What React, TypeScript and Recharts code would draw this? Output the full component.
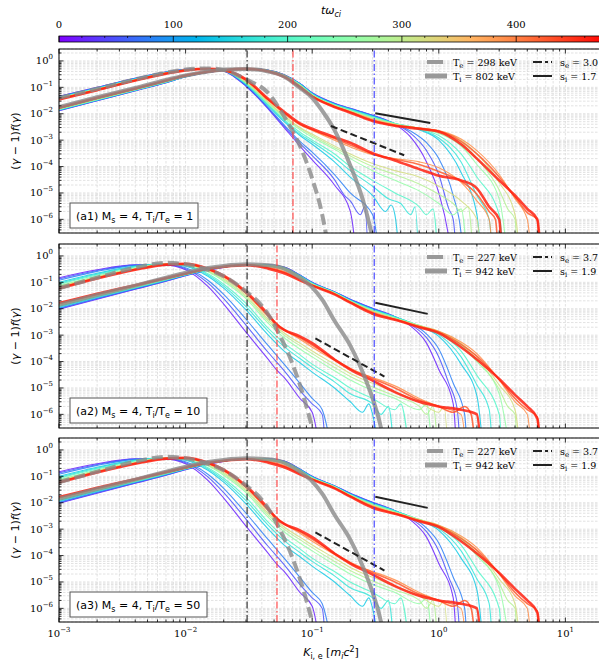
import React from 'react';
import { LineChart, Line, XAxis, YAxis, CartesianGrid, ReferenceLine } from 'recharts';

type Pt = [number, number];

// ---------- time snapshots (colour = t ω_ci) ----------
const TIMES: number[] = [20, 50, 80, 140, 170, 200, 260, 290, 320, 390, 425, 460];
const T_MAX = 480;
const CBAR_LABELS: number[] = [0, 100, 200, 300, 400];
const X_DECADES: number[] = [-3, -2, -1, 0, 1];
const Y_DECADES: number[] = [-7, -6, -5, -4, -3, -2, -1, 0];

// ---------- panel (a1) : T_i/T_e = 1 ----------
const P1_ELECTRONS: Pt[][] = [
  [[0.001,0.046],[0.002,0.1],[0.004,0.22],[0.007,0.38],[0.01,0.48],[0.015,0.52],[0.02,0.42],[0.03,0.11],[0.045,0.015],[0.06,3e-3],[0.08,6e-4],[0.1,1.8e-4],[0.15,2e-5],[0.2,2e-6],[0.23,1e-8]],
  [[0.001,0.045],[0.002,0.098],[0.004,0.218],[0.007,0.378],[0.01,0.478],[0.015,0.518],[0.02,0.425],[0.03,0.115],[0.045,0.016],[0.06,3.4e-3],[0.08,7.5e-4],[0.1,2.6e-4],[0.15,3.2e-5],[0.18,8e-6],[0.2,5e-6],[0.24,1.5e-6],[0.26,3e-6],[0.28,1e-8]],
  [[0.001,0.044],[0.002,0.097],[0.004,0.215],[0.007,0.375],[0.01,0.475],[0.015,0.515],[0.02,0.43],[0.03,0.12],[0.045,0.017],[0.06,3.8e-3],[0.08,9e-4],[0.1,3.5e-4],[0.15,5e-5],[0.2,1e-5],[0.3,1.5e-6],[0.35,1e-8]],
  [[0.001,0.042],[0.002,0.093],[0.004,0.21],[0.007,0.37],[0.01,0.47],[0.015,0.512],[0.02,0.435],[0.03,0.13],[0.045,0.02],[0.06,5e-3],[0.08,1.5e-3],[0.1,7e-4],[0.15,1.5e-4],[0.2,4e-5],[0.3,8e-6],[0.38,2e-6],[0.42,3.5e-6],[0.45,1.5e-6],[0.5,1e-8]],
  [[0.001,0.041],[0.002,0.092],[0.004,0.205],[0.007,0.365],[0.01,0.465],[0.015,0.511],[0.02,0.437],[0.03,0.135],[0.045,0.021],[0.06,5.5e-3],[0.08,1.7e-3],[0.1,8.5e-4],[0.15,2.2e-4],[0.2,7e-5],[0.3,1.8e-5],[0.4,6e-6],[0.5,4e-6],[0.6,1.5e-6],[0.65,3e-6],[0.7,1e-8]],
  [[0.001,0.04],[0.002,0.09],[0.004,0.2],[0.007,0.36],[0.01,0.46],[0.015,0.51],[0.02,0.44],[0.03,0.14],[0.045,0.022],[0.06,6e-3],[0.08,2e-3],[0.1,1e-3],[0.15,3e-4],[0.2,1e-4],[0.3,3e-5],[0.45,1e-5],[0.7,3e-6],[0.8,1.5e-6],[0.9,2.5e-6],[1,1e-8]],
  [[0.001,0.039],[0.002,0.087],[0.004,0.195],[0.007,0.35],[0.01,0.455],[0.015,0.505],[0.02,0.445],[0.03,0.15],[0.045,0.025],[0.06,7e-3],[0.08,2.5e-3],[0.1,1.3e-3],[0.15,4.5e-4],[0.2,2e-4],[0.3,7e-5],[0.45,3e-5],[0.7,1.2e-5],[1,4e-6],[1.3,1.5e-6],[1.5,2.5e-6],[1.7,1e-8]],
  [[0.001,0.0385],[0.002,0.085],[0.004,0.192],[0.007,0.348],[0.01,0.452],[0.015,0.502],[0.02,0.446],[0.03,0.155],[0.045,0.027],[0.06,7.8e-3],[0.08,2.8e-3],[0.1,1.5e-3],[0.15,5.2e-4],[0.2,2.5e-4],[0.3,1e-4],[0.45,5e-5],[0.7,2.2e-5],[1,9e-6],[1.3,4e-6],[1.5,2e-6],[1.7,3e-6],[1.9,1e-8]],
  [[0.001,0.038],[0.002,0.084],[0.004,0.19],[0.007,0.345],[0.01,0.45],[0.015,0.5],[0.02,0.447],[0.03,0.16],[0.045,0.028],[0.06,8.5e-3],[0.08,3e-3],[0.1,1.7e-3],[0.15,6e-4],[0.2,3e-4],[0.3,1.3e-4],[0.45,7e-5],[0.7,4e-5],[1,1.8e-5],[1.5,5e-6],[2,1e-6],[2.2,1e-8]],
  [[0.001,0.036],[0.002,0.081],[0.004,0.185],[0.007,0.34],[0.01,0.445],[0.015,0.5],[0.02,0.45],[0.03,0.18],[0.045,0.032],[0.06,0.01],[0.08,3.8e-3],[0.1,2.3e-3],[0.15,1e-3],[0.2,5.5e-4],[0.3,2.8e-4],[0.45,2e-4],[0.7,1.5e-4],[1,9e-5],[1.5,2.5e-5],[2,5e-6],[2.5,1e-6],[2.7,1e-8]],
  [[0.001,0.0355],[0.002,0.08],[0.004,0.182],[0.007,0.335],[0.01,0.442],[0.015,0.5],[0.02,0.45],[0.03,0.19],[0.045,0.034],[0.06,0.011],[0.08,4e-3],[0.1,2.5e-3],[0.15,1.15e-3],[0.2,6.5e-4],[0.3,3e-4],[0.45,1.9e-4],[0.7,1.2e-4],[1,6.5e-5],[1.5,2.8e-5],[2,9e-6],[2.5,2e-6],[2.8,1e-6],[3,1e-8]],
  [[0.001,0.035],[0.002,0.078],[0.004,0.18],[0.007,0.33],[0.01,0.44],[0.015,0.5],[0.02,0.45],[0.03,0.2],[0.045,0.036],[0.06,0.012],[0.08,4.3e-3],[0.1,2.7e-3],[0.15,1.3e-3],[0.2,8e-4],[0.3,3.2e-4],[0.45,1.7e-4],[0.7,8e-5],[1,4.5e-5],[1.5,3e-5],[2,1.5e-5],[2.5,3e-6],[3,1e-6],[3.2,1e-8]],
];

const P1_IONS: Pt[][] = [
  [[0.001,0.013],[0.002,0.031],[0.004,0.074],[0.007,0.15],[0.01,0.25],[0.015,0.37],[0.02,0.45],[0.03,0.51],[0.045,0.44],[0.06,0.3],[0.08,0.14],[0.1,0.062],[0.15,0.025],[0.2,0.016],[0.3,8.8e-3],[0.45,4e-3],[0.6,1.3e-3],[0.8,1.5e-4],[1,1e-5],[1.2,2e-7],[1.3,1e-8]],
  [[0.001,0.0132],[0.002,0.0315],[0.004,0.075],[0.007,0.151],[0.01,0.251],[0.015,0.371],[0.02,0.45],[0.03,0.51],[0.045,0.44],[0.06,0.298],[0.08,0.138],[0.1,0.061],[0.15,0.0245],[0.2,0.0158],[0.3,8.6e-3],[0.45,4.1e-3],[0.6,1.8e-3],[0.8,4e-4],[1,5e-5],[1.2,2.5e-6],[1.3,1e-6],[1.4,1e-8]],
  [[0.001,0.0135],[0.002,0.032],[0.004,0.076],[0.007,0.152],[0.01,0.252],[0.015,0.372],[0.02,0.45],[0.03,0.51],[0.045,0.44],[0.06,0.295],[0.08,0.137],[0.1,0.06],[0.15,0.024],[0.2,0.0155],[0.3,8.5e-3],[0.45,4.2e-3],[0.6,2.2e-3],[0.8,8e-4],[1,2e-4],[1.3,8e-6],[1.5,3e-7],[1.6,1e-8]],
  [[0.001,0.014],[0.002,0.033],[0.004,0.078],[0.007,0.155],[0.01,0.255],[0.015,0.375],[0.02,0.45],[0.03,0.51],[0.045,0.435],[0.06,0.29],[0.08,0.133],[0.1,0.058],[0.15,0.023],[0.2,0.015],[0.3,8e-3],[0.45,4.3e-3],[0.7,2.5e-3],[1,1e-3],[1.5,6e-5],[2,1.5e-6],[2.2,1e-8]],
  [[0.001,0.0142],[0.002,0.0335],[0.004,0.079],[0.007,0.157],[0.01,0.257],[0.015,0.376],[0.02,0.451],[0.03,0.51],[0.045,0.432],[0.06,0.287],[0.08,0.13],[0.1,0.056],[0.15,0.0225],[0.2,0.0145],[0.3,7.8e-3],[0.45,4.3e-3],[0.7,2.6e-3],[1,1.2e-3],[1.5,1.5e-4],[2,8e-6],[2.5,1e-6],[2.7,1e-8]],
  [[0.001,0.0145],[0.002,0.034],[0.004,0.08],[0.007,0.16],[0.01,0.26],[0.015,0.378],[0.02,0.452],[0.03,0.51],[0.045,0.43],[0.06,0.285],[0.08,0.128],[0.1,0.055],[0.15,0.022],[0.2,0.014],[0.3,7.5e-3],[0.45,4.3e-3],[0.7,2.7e-3],[1,1.5e-3],[1.5,3e-4],[2,4e-5],[3,1.5e-6],[3.3,1e-8]],
  [[0.001,0.015],[0.002,0.035],[0.004,0.082],[0.007,0.165],[0.01,0.265],[0.015,0.38],[0.02,0.455],[0.03,0.51],[0.045,0.425],[0.06,0.28],[0.08,0.123],[0.1,0.052],[0.15,0.021],[0.2,0.013],[0.3,7e-3],[0.45,4.2e-3],[0.7,2.8e-3],[1,1.8e-3],[1.5,6e-4],[2,1.2e-4],[3,6e-6],[3.6,1e-8]],
  [[0.001,0.0152],[0.002,0.0355],[0.004,0.083],[0.007,0.167],[0.01,0.267],[0.015,0.381],[0.02,0.455],[0.03,0.508],[0.045,0.422],[0.06,0.275],[0.08,0.12],[0.1,0.051],[0.15,0.0205],[0.2,0.0128],[0.3,6.8e-3],[0.45,4.1e-3],[0.7,2.85e-3],[1,2e-3],[1.5,8e-4],[2,2e-4],[3,1.3e-5],[3.5,2.5e-6],[4,1e-6],[4.2,1e-8]],
  [[0.001,0.0155],[0.002,0.036],[0.004,0.085],[0.007,0.17],[0.01,0.27],[0.015,0.383],[0.02,0.455],[0.03,0.505],[0.045,0.42],[0.06,0.27],[0.08,0.117],[0.1,0.05],[0.15,0.02],[0.2,0.0125],[0.3,6.5e-3],[0.45,4e-3],[0.7,2.9e-3],[1,2.2e-3],[1.5,1e-3],[2,3e-4],[3,2.5e-5],[4,1.5e-6],[4.5,1e-8]],
  [[0.001,0.016],[0.002,0.038],[0.004,0.087],[0.007,0.175],[0.01,0.275],[0.015,0.386],[0.02,0.455],[0.03,0.5],[0.045,0.41],[0.06,0.26],[0.08,0.11],[0.1,0.047],[0.15,0.019],[0.2,0.012],[0.3,6e-3],[0.45,3.8e-3],[0.7,2.9e-3],[1,2.3e-3],[1.5,1.1e-3],[2,4e-4],[3,5e-5],[4,6e-6],[5,1e-6],[5.5,1e-8]],
  [[0.001,0.0165],[0.002,0.039],[0.004,0.088],[0.007,0.178],[0.01,0.278],[0.015,0.388],[0.02,0.455],[0.03,0.5],[0.045,0.405],[0.06,0.255],[0.08,0.105],[0.1,0.046],[0.15,0.0185],[0.2,0.0115],[0.3,5.6e-3],[0.45,3.6e-3],[0.7,2.8e-3],[1,2.2e-3],[1.5,9e-4],[2,3e-4],[3,4e-5],[4,7e-6],[5,1.8e-6],[6,1e-6],[6.3,1e-8]],
  [[0.001,0.017],[0.002,0.04],[0.004,0.09],[0.007,0.18],[0.01,0.28],[0.015,0.39],[0.02,0.455],[0.03,0.5],[0.045,0.4],[0.06,0.25],[0.08,0.1],[0.1,0.045],[0.15,0.018],[0.2,0.011],[0.3,5.3e-3],[0.45,3.5e-3],[0.7,2.7e-3],[1,2.1e-3],[1.5,7e-4],[2,2e-4],[3,3e-5],[4,8e-6],[5,2.5e-6],[6,1e-6],[6.5,1e-8]],
];

const P1_TE_FIT: Pt[] = [[0.001,0.04],[0.002,0.088],[0.004,0.2],[0.007,0.36],[0.01,0.47],[0.015,0.52],[0.02,0.45],[0.03,0.2],[0.045,0.06],[0.06,8e-3],[0.08,6e-4],[0.1,3.5e-5],[0.12,1.5e-6],[0.13,2e-7],[0.14,2e-8]];
const P1_TI_FIT: Pt[] = [[0.001,0.018],[0.002,0.042],[0.004,0.095],[0.007,0.19],[0.01,0.28],[0.015,0.4],[0.02,0.47],[0.03,0.5],[0.045,0.4],[0.06,0.26],[0.08,0.095],[0.1,0.04],[0.12,0.013],[0.15,2.4e-3],[0.2,1.1e-4],[0.25,6e-6],[0.3,2e-7],[0.33,2e-8]];
const P1_SE_LINE: Pt[] = [[0.1406,3.45e-3],[0.533,2.68e-4]];
const P1_SI_LINE: Pt[] = [[0.315,0.0105],[0.857,4.47e-3]];
const P1_VLINES: number[] = [0.0306, 0.0705, 0.309];
const P1_LEGEND: string[] = ['298', '802', '3.0', '1.7'];

// ---------- panels (a2) and (a3) : T_i/T_e = 10, 50 ----------
const P23_ELECTRONS: Pt[][] = [
  [[0.001,0.15],[0.002,0.3],[0.004,0.46],[0.007,0.45],[0.01,0.3],[0.015,0.07],[0.02,0.015],[0.03,1.3e-3],[0.045,1.2e-4],[0.053,4.5e-5],[0.06,2.5e-5],[0.08,4e-6],[0.1,1.2e-6],[0.12,1e-8]],
  [[0.001,0.135],[0.002,0.28],[0.004,0.45],[0.007,0.465],[0.01,0.33],[0.015,0.095],[0.02,0.024],[0.03,2.4e-3],[0.045,2.2e-4],[0.06,4.5e-5],[0.08,8e-6],[0.1,2.5e-6],[0.12,1e-6],[0.13,1e-8]],
  [[0.001,0.12],[0.002,0.26],[0.004,0.44],[0.007,0.48],[0.01,0.36],[0.015,0.12],[0.02,0.035],[0.03,4e-3],[0.045,4e-4],[0.06,8e-5],[0.08,1.5e-5],[0.1,4e-6],[0.12,1.5e-6],[0.15,1e-8]],
  [[0.001,0.1],[0.002,0.22],[0.004,0.41],[0.007,0.5],[0.01,0.41],[0.015,0.17],[0.02,0.06],[0.03,9e-3],[0.045,1e-3],[0.06,2.5e-4],[0.08,9e-5],[0.1,4e-5],[0.15,1e-5],[0.2,3e-6],[0.25,1.2e-6],[0.28,2.5e-6],[0.3,1e-6],[0.35,1e-8]],
  [[0.001,0.092],[0.002,0.205],[0.004,0.395],[0.007,0.5],[0.01,0.425],[0.015,0.19],[0.02,0.072],[0.03,0.012],[0.045,1.4e-3],[0.06,3.7e-4],[0.08,1.3e-4],[0.1,6e-5],[0.15,1.7e-5],[0.2,6e-6],[0.3,2.5e-6],[0.35,1e-6],[0.4,2e-6],[0.45,1e-8]],
  [[0.001,0.085],[0.002,0.19],[0.004,0.38],[0.007,0.5],[0.01,0.44],[0.015,0.21],[0.02,0.085],[0.03,0.016],[0.045,1.8e-3],[0.06,5e-4],[0.08,1.8e-4],[0.1,8e-5],[0.15,2.5e-5],[0.2,1e-5],[0.3,4e-6],[0.45,1.5e-6],[0.5,2.5e-6],[0.6,1e-8]],
  [[0.001,0.075],[0.002,0.17],[0.004,0.35],[0.007,0.5],[0.01,0.47],[0.015,0.25],[0.02,0.11],[0.03,0.024],[0.045,2.8e-3],[0.06,8e-4],[0.08,3e-4],[0.1,1.5e-4],[0.15,4.5e-5],[0.2,2e-5],[0.3,8e-6],[0.45,4e-6],[0.7,1.5e-6],[0.8,2.5e-6],[0.9,1e-8]],
  [[0.001,0.071],[0.002,0.165],[0.004,0.34],[0.007,0.495],[0.01,0.475],[0.015,0.265],[0.02,0.125],[0.03,0.028],[0.045,3.4e-3],[0.06,1e-3],[0.08,4e-4],[0.1,2e-4],[0.15,6e-5],[0.2,2.7e-5],[0.3,1.1e-5],[0.45,5e-6],[0.7,2e-6],[0.8,1e-6],[0.9,2e-6],[1,1e-8]],
  [[0.001,0.068],[0.002,0.16],[0.004,0.33],[0.007,0.49],[0.01,0.48],[0.015,0.28],[0.02,0.14],[0.03,0.032],[0.045,4e-3],[0.06,1.2e-3],[0.08,5e-4],[0.1,2.5e-4],[0.15,8e-5],[0.2,3.5e-5],[0.3,1.5e-5],[0.45,7e-6],[0.7,3e-6],[1,1.2e-6],[1.1,2e-6],[1.2,1e-8]],
  [[0.001,0.063],[0.002,0.15],[0.004,0.31],[0.007,0.48],[0.01,0.49],[0.015,0.31],[0.02,0.16],[0.03,0.038],[0.045,5e-3],[0.06,1.6e-3],[0.08,7e-4],[0.1,3.5e-4],[0.15,1.1e-4],[0.2,5e-5],[0.3,2.5e-5],[0.45,1.2e-5],[0.7,4e-6],[1,2e-6],[1.5,1e-6],[1.7,1e-8]],
  [[0.001,0.06],[0.002,0.145],[0.004,0.305],[0.007,0.475],[0.01,0.495],[0.015,0.32],[0.02,0.17],[0.03,0.04],[0.045,5.5e-3],[0.06,1.6e-3],[0.08,8e-4],[0.1,4.2e-4],[0.15,1.2e-4],[0.2,5.5e-5],[0.3,2.3e-5],[0.45,1e-5],[0.7,3.5e-6],[1,2e-6],[1.3,1.2e-6],[1.6,2e-6],[1.8,1e-6],[2,1e-8]],
  [[0.001,0.058],[0.002,0.14],[0.004,0.3],[0.007,0.47],[0.01,0.5],[0.015,0.33],[0.02,0.18],[0.03,0.043],[0.045,6e-3],[0.053,2.3e-3],[0.06,1.6e-3],[0.08,9e-4],[0.1,5e-4],[0.15,1.2e-4],[0.2,5e-5],[0.3,1.9e-5],[0.45,7e-6],[0.7,3e-6],[1,2e-6],[1.5,1.5e-6],[2,1e-6],[2.2,1e-8]],
];

const P23_IONS: Pt[][] = [
  [[0.001,0.0095],[0.002,0.023],[0.004,0.055],[0.007,0.11],[0.01,0.18],[0.015,0.29],[0.02,0.37],[0.03,0.47],[0.045,0.46],[0.06,0.38],[0.08,0.19],[0.1,0.1],[0.15,0.044],[0.2,0.023],[0.3,0.0105],[0.45,5e-3],[0.6,2.2e-3],[0.8,5e-4],[1,5e-5],[1.3,2.5e-6],[1.4,1e-8]],
  [[0.001,0.01],[0.002,0.024],[0.004,0.0565],[0.007,0.1125],[0.01,0.1825],[0.015,0.2925],[0.02,0.3725],[0.03,0.47],[0.045,0.457],[0.06,0.375],[0.08,0.187],[0.1,0.098],[0.15,0.0435],[0.2,0.0225],[0.3,0.0102],[0.45,5e-3],[0.6,2.5e-3],[0.8,8e-4],[1,1.5e-4],[1.2,1.5e-5],[1.4,1.5e-6],[1.5,1e-8]],
  [[0.001,0.0105],[0.002,0.025],[0.004,0.058],[0.007,0.115],[0.01,0.185],[0.015,0.295],[0.02,0.375],[0.03,0.47],[0.045,0.455],[0.06,0.37],[0.08,0.185],[0.1,0.097],[0.15,0.043],[0.2,0.022],[0.3,0.01],[0.45,5e-3],[0.6,2.8e-3],[0.8,1.1e-3],[1,3e-4],[1.3,1.5e-5],[1.6,1e-6],[1.7,1e-8]],
  [[0.001,0.0115],[0.002,0.027],[0.004,0.061],[0.007,0.12],[0.01,0.19],[0.015,0.3],[0.02,0.38],[0.03,0.47],[0.045,0.45],[0.06,0.36],[0.08,0.18],[0.1,0.094],[0.15,0.042],[0.2,0.021],[0.3,9.5e-3],[0.45,5e-3],[0.7,2.2e-3],[1,9e-4],[1.5,8e-5],[2,5e-6],[2.3,1e-8]],
  [[0.001,0.012],[0.002,0.028],[0.004,0.0625],[0.007,0.1225],[0.01,0.1925],[0.015,0.3025],[0.02,0.38],[0.03,0.47],[0.045,0.445],[0.06,0.355],[0.08,0.175],[0.1,0.092],[0.15,0.0415],[0.2,0.0205],[0.3,9.2e-3],[0.45,4.9e-3],[0.7,2.25e-3],[1,1.05e-3],[1.5,1.5e-4],[2,1.3e-5],[2.5,1.5e-6],[2.7,1e-8]],
  [[0.001,0.0125],[0.002,0.029],[0.004,0.064],[0.007,0.125],[0.01,0.195],[0.015,0.305],[0.02,0.38],[0.03,0.47],[0.045,0.44],[0.06,0.35],[0.08,0.17],[0.1,0.09],[0.15,0.041],[0.2,0.02],[0.3,9e-3],[0.45,4.8e-3],[0.7,2.3e-3],[1,1.2e-3],[1.5,2.5e-4],[2,3e-5],[3,1e-6],[3.2,1e-8]],
  [[0.001,0.0135],[0.002,0.031],[0.004,0.067],[0.007,0.13],[0.01,0.2],[0.015,0.31],[0.02,0.385],[0.03,0.47],[0.045,0.43],[0.06,0.33],[0.08,0.16],[0.1,0.087],[0.15,0.04],[0.2,0.0195],[0.3,8.5e-3],[0.45,4.5e-3],[0.7,2.3e-3],[1,1.3e-3],[1.5,4e-4],[2,1e-4],[3,6e-6],[3.8,1e-8]],
  [[0.001,0.014],[0.002,0.032],[0.004,0.0685],[0.007,0.1325],[0.01,0.2025],[0.015,0.3125],[0.02,0.3875],[0.03,0.468],[0.045,0.42],[0.06,0.315],[0.08,0.155],[0.1,0.0855],[0.15,0.0395],[0.2,0.0192],[0.3,8.2e-3],[0.45,4.4e-3],[0.7,2.3e-3],[1,1.35e-3],[1.5,4.5e-4],[2,1.2e-4],[3,9e-6],[3.5,2e-6],[4,1e-6],[4.2,1e-8]],
  [[0.001,0.0145],[0.002,0.033],[0.004,0.07],[0.007,0.135],[0.01,0.205],[0.015,0.315],[0.02,0.39],[0.03,0.465],[0.045,0.41],[0.06,0.3],[0.08,0.15],[0.1,0.084],[0.15,0.039],[0.2,0.019],[0.3,8e-3],[0.45,4.3e-3],[0.7,2.3e-3],[1,1.4e-3],[1.5,5e-4],[2,1.5e-4],[3,1.3e-5],[4,1.5e-6],[4.5,1e-8]],
  [[0.001,0.0155],[0.002,0.035],[0.004,0.074],[0.007,0.14],[0.01,0.21],[0.015,0.32],[0.02,0.39],[0.03,0.46],[0.045,0.38],[0.06,0.26],[0.08,0.135],[0.1,0.08],[0.15,0.037],[0.2,0.018],[0.3,7.5e-3],[0.45,4e-3],[0.7,2.2e-3],[1,1.4e-3],[1.5,5.5e-4],[2,2e-4],[3,2e-5],[4,3e-6],[5,1e-6],[5.5,1e-8]],
  [[0.001,0.016],[0.002,0.036],[0.004,0.076],[0.007,0.1425],[0.01,0.2125],[0.015,0.3225],[0.02,0.39],[0.03,0.455],[0.045,0.355],[0.06,0.24],[0.08,0.128],[0.1,0.0775],[0.15,0.036],[0.2,0.0175],[0.3,7e-3],[0.45,3.9e-3],[0.7,2.1e-3],[1,1.3e-3],[1.5,4.5e-4],[2,1.6e-4],[3,2.1e-5],[4,4e-6],[5,1.5e-6],[6,8e-7],[6.3,1e-8]],
  [[0.001,0.0165],[0.002,0.037],[0.004,0.078],[0.007,0.145],[0.01,0.215],[0.015,0.325],[0.02,0.39],[0.03,0.45],[0.045,0.33],[0.06,0.22],[0.08,0.12],[0.1,0.075],[0.15,0.035],[0.2,0.017],[0.3,6.5e-3],[0.45,3.8e-3],[0.7,2e-3],[1,1.2e-3],[1.5,3.5e-4],[2,1.2e-4],[3,2.2e-5],[4,5.5e-6],[5,2e-6],[6,7e-7],[6.5,1e-8]],
];

const P23_TE_FIT: Pt[] = [[0.001,0.06],[0.002,0.15],[0.004,0.36],[0.007,0.55],[0.01,0.48],[0.015,0.3],[0.02,0.17],[0.03,0.045],[0.04,0.013],[0.045,6e-3],[0.053,1.5e-3],[0.06,4.5e-4],[0.07,8e-5],[0.08,1.3e-5],[0.09,2e-6],[0.1,3e-7],[0.11,3e-8]];
const P23_TI_FIT: Pt[] = [[0.001,0.014],[0.002,0.033],[0.004,0.075],[0.007,0.15],[0.01,0.23],[0.015,0.35],[0.02,0.42],[0.03,0.48],[0.045,0.44],[0.06,0.33],[0.08,0.15],[0.1,0.065],[0.12,0.022],[0.15,3.5e-3],[0.2,4e-4],[0.27,1.6e-5],[0.3,4e-6],[0.35,3e-7],[0.38,3e-8]];
const P23_SE_LINE: Pt[] = [[0.106,7.56e-4],[0.372,2.7e-5]];
const P23_SI_LINE: Pt[] = [[0.315,0.0168],[0.817,6.4e-3]];
const P23_VLINES: number[] = [0.0306, 0.0527, 0.309];
const P23_LEGEND: string[] = ['227', '942', '3.7', '1.9'];

const PANEL_RATIOS: string[] = ['1', '10', '50'];
const PANEL_TAGS: string[] = ['a1', 'a2', 'a3'];

// ---------- layout ----------
const PANEL_TOPS = [49, 244, 438];
const PH = 184;
const PL = 59;
const PW = 544.5;
const MT = 5;
const CHART_W = 640;
const CHART_H = MT + PH + 30;
const X_DOMAIN: [number, number] = [1e-3, 20];
const Y_DOMAIN: [number, number] = [Math.pow(10, -6.516), Math.pow(10, 0.452)];
const CB_X0 = 59;
const CB_PX = 1.143;
const CB_Y = 36;
const CB_H = 6;

const SERIF = 'DejaVu Serif';
const SANS = 'DejaVu Sans';

function makeTicks(decades: number[], lo: number, hi: number): number[] {
  const out: number[] = [];
  decades.forEach((d) => {
    for (let m = 1; m <= 9; m++) {
      const v = Number((m * Math.pow(10, d)).toPrecision(6));
      if (v >= lo * 0.9999 && v <= hi) out.push(v);
    }
  });
  return out;
}
const X_TICKS = makeTicks(X_DECADES, X_DOMAIN[0], 19);
const Y_TICKS = makeTicks(Y_DECADES, Y_DOMAIN[0], Y_DOMAIN[1]);

function isMajor(v: number) {
  const l = Math.log10(v);
  return Math.abs(l - Math.round(l)) < 1e-6;
}
function supText(e: number) {
  return e < 0 ? '\u2212' + Math.abs(e) : String(e);
}

function rainbow(f: number) {
  const r = Math.min(1, Math.abs(2 * f - 0.5));
  const g = Math.max(0, Math.sin(Math.PI * f));
  const b = Math.max(0, Math.cos((Math.PI * f) / 2));
  return `rgb(${Math.round(r * 255)},${Math.round(g * 255)},${Math.round(b * 255)})`;
}

const toObj = (pts: Pt[]) => pts.map(([x, y]) => ({ x, y }));

function XTick(props: any) {
  const { payload, showLabels } = props;
  const x = payload && payload.coordinate != null ? payload.coordinate : props.x;
  const v = payload.value;
  const major = isMajor(v);
  const len = major ? 4.5 : 2.5;
  const yb = MT + PH;
  return (
    <g>
      <line x1={x} x2={x} y1={yb} y2={yb - len} stroke="#000" strokeWidth={0.8} />
      <line x1={x} x2={x} y1={MT} y2={MT + len} stroke="#000" strokeWidth={0.8} />
      {showLabels && major ? (
        <text x={x} y={yb + 15} textAnchor="middle" fontFamily={SERIF} fontSize={10} fill="#000">
          10<tspan dy={-5} fontSize={7}>{supText(Math.round(Math.log10(v)))}</tspan>
        </text>
      ) : null}
    </g>
  );
}

function YTick(props: any) {
  const { payload } = props;
  const y = payload && payload.coordinate != null ? payload.coordinate : props.y;
  const v = payload.value;
  const major = isMajor(v);
  const len = major ? 4.5 : 2.5;
  return (
    <g>
      <line x1={PL} x2={PL + len} y1={y} y2={y} stroke="#000" strokeWidth={0.8} />
      {major ? (
        <text x={PL - 6} y={y + 3.5} textAnchor="end" fontFamily={SERIF} fontSize={10} fill="#000">
          10<tspan dy={-5} fontSize={7}>{supText(Math.round(Math.log10(v)))}</tspan>
        </text>
      ) : null}
    </g>
  );
}

type PanelProps = {
  top: number;
  ions: Pt[][];
  electrons: Pt[][];
  teFit: Pt[];
  tiFit: Pt[];
  seLine: Pt[];
  siLine: Pt[];
  vlines: number[];
  showXLabels: boolean;
};

function Panel(p: PanelProps) {
  const series: any[] = [];
  const n = TIMES.length;
  TIMES.forEach((t, i) => {
    const c = rainbow(t / T_MAX);
    const w = i === n - 1 ? 2.6 : i === n - 2 ? 1.6 : 1.1;
    series.push(
      <Line key={'i' + i} data={toObj(p.ions[i])} dataKey="y" type="monotone" stroke={c} strokeWidth={w} strokeOpacity={0.85} dot={false} isAnimationActive={false} />
    );
    series.push(
      <Line key={'e' + i} data={toObj(p.electrons[i])} dataKey="y" type="monotone" stroke={c} strokeWidth={w} strokeOpacity={0.85} dot={false} isAnimationActive={false} />
    );
  });
  const vcol = ['#222222', '#ff3b3b', '#3b3bff'];
  return (
    <div style={{ position: 'absolute', left: 0, top: p.top - MT }}>
      <LineChart width={CHART_W} height={CHART_H} margin={{ top: MT, right: CHART_W - PL - PW, bottom: 0, left: 0 }}>
        <CartesianGrid stroke="#cfcfcf" strokeDasharray="2.5 1.5" strokeWidth={0.6} />
        <XAxis type="number" dataKey="x" scale="log" domain={X_DOMAIN} allowDataOverflow ticks={X_TICKS} interval={0} tickLine={false} axisLine={false} height={30} tick={(tp: any) => <XTick {...tp} showLabels={p.showXLabels} />} />
        <YAxis type="number" scale="log" domain={Y_DOMAIN} allowDataOverflow ticks={Y_TICKS} interval={0} tickLine={false} axisLine={false} width={PL} tick={(tp: any) => <YTick {...tp} />} />
        {series}
        <Line data={toObj(p.tiFit)} dataKey="y" type="monotone" stroke="#8a8a8a" strokeOpacity={0.8} strokeWidth={4} dot={false} isAnimationActive={false} />
        <Line data={toObj(p.teFit)} dataKey="y" type="monotone" stroke="#8a8a8a" strokeOpacity={0.8} strokeWidth={4} strokeDasharray="11 5" dot={false} isAnimationActive={false} />
        <Line data={toObj(p.seLine)} dataKey="y" type="linear" stroke="#222" strokeWidth={2} strokeDasharray="7 3.5" dot={false} isAnimationActive={false} />
        <Line data={toObj(p.siLine)} dataKey="y" type="linear" stroke="#222" strokeWidth={2} dot={false} isAnimationActive={false} />
        {p.vlines.map((v, i) => (
          <ReferenceLine key={'v' + i} x={v} stroke={vcol[i]} strokeWidth={1.1} strokeDasharray="7 2.5 1.5 2.5" ifOverflow="hidden" />
        ))}
      </LineChart>
    </div>
  );
}

function Legend({ top, vals }: { top: number; vals: string[] }) {
  const r1 = top + 13;
  const r2 = top + 27;
  const fs = 9.5;
  return (
    <g fontFamily={SERIF} fontSize={fs} fill="#000">
      <line x1={427} x2={443} y1={r1} y2={r1} stroke="#999" strokeWidth={4} />
      <line x1={425} x2={447} y1={r2} y2={r2} stroke="#999" strokeWidth={5} />
      <line x1={533} x2={552} y1={r1} y2={r1} stroke="#222" strokeWidth={2} strokeDasharray="9 3 3 3" />
      <line x1={533} x2={552} y1={r2} y2={r2} stroke="#222" strokeWidth={2} />
      <text x={453} y={r1 + 3.5}>T<tspan dy={2.5} fontSize={7}>e</tspan><tspan dy={-2.5}>{` = ${vals[0]} keV`}</tspan></text>
      <text x={453} y={r2 + 3.5}>T<tspan dy={2.5} fontSize={7}>i</tspan><tspan dy={-2.5}>{` = ${vals[1]} keV`}</tspan></text>
      <text x={560} y={r1 + 3.5}>s<tspan dy={2.5} fontSize={7}>e</tspan><tspan dy={-2.5}>{` = ${vals[2]}`}</tspan></text>
      <text x={560} y={r2 + 3.5}>s<tspan dy={2.5} fontSize={7}>i</tspan><tspan dy={-2.5}>{` = ${vals[3]}`}</tspan></text>
    </g>
  );
}

function PanelLabel({ top, tag, ratio }: { top: number; tag: string; ratio: string }) {
  const w = ratio.length > 1 ? 137 : 128;
  const y0 = top + PH - 30;
  return (
    <g>
      <rect x={70} y={y0} width={w} height={25} fill="#fff" stroke="#555" strokeWidth={1} />
      <text x={76} y={y0 + 17} fontFamily={SANS} fontSize={11} fill="#000">
        {`(${tag}) M`}<tspan dy={2.5} fontSize={8}>s</tspan><tspan dy={-2.5}>{' = 4, T'}</tspan><tspan dy={2.5} fontSize={8}>i</tspan><tspan dy={-2.5}>/T</tspan><tspan dy={2.5} fontSize={8}>e</tspan><tspan dy={-2.5}>{` = ${ratio}`}</tspan>
      </text>
    </g>
  );
}

function Overlay() {
  const cbEnd = CB_X0 + T_MAX * CB_PX;
  const stops = [] as any[];
  for (let k = 0; k <= 20; k++) {
    stops.push(<stop key={k} offset={k / 20} stopColor={rainbow(k / 20)} />);
  }
  const minor: number[] = [];
  for (let t = 20; t < T_MAX; t += 20) if (t % 100 !== 0) minor.push(t);
  return (
    <svg width={599} height={664} style={{ position: 'absolute', left: 0, top: 0, pointerEvents: 'none' }}>
      <defs>
        <linearGradient id="cbgrad" gradientUnits="userSpaceOnUse" x1={CB_X0} x2={cbEnd} y1={0} y2={0}>
          {stops}
        </linearGradient>
      </defs>
      <rect x={CB_X0} y={CB_Y} width={cbEnd - CB_X0} height={CB_H} fill="url(#cbgrad)" stroke="#000" strokeWidth={0.8} />
      {minor.map((t) => (
        <line key={'m' + t} x1={CB_X0 + t * CB_PX} x2={CB_X0 + t * CB_PX} y1={CB_Y} y2={CB_Y + 2} stroke="#000" strokeWidth={0.7} />
      ))}
      {CBAR_LABELS.map((t) => (
        <g key={'c' + t}>
          <line x1={CB_X0 + t * CB_PX} x2={CB_X0 + t * CB_PX} y1={CB_Y} y2={CB_Y + CB_H} stroke="#000" strokeWidth={0.8} />
          <text x={CB_X0 + t * CB_PX} y={27.5} textAnchor="middle" fontFamily={SERIF} fontSize={10} fill="#000">{t}</text>
        </g>
      ))}
      <text x={331} y={14} textAnchor="middle" fontFamily={SANS} fontStyle="italic" fontSize={11} fill="#000">
        tω<tspan dy={2.5} fontSize={8}>ci</tspan>
      </text>

      {PANEL_TOPS.map((top, i) => (
        <g key={'f' + i}>
          <rect x={PL} y={top} width={PW} height={PH} fill="none" stroke="#000" strokeWidth={1} />
          <Legend top={top} vals={i === 0 ? P1_LEGEND : P23_LEGEND} />
          <PanelLabel top={top} tag={PANEL_TAGS[i]} ratio={PANEL_RATIOS[i]} />
          <text transform={`translate(19, ${top + PH / 2}) rotate(-90)`} textAnchor="middle" fontFamily={SANS} fontSize={11} fill="#000">
            (<tspan fontStyle="italic">γ</tspan> − 1)<tspan fontStyle="italic">f</tspan>(<tspan fontStyle="italic">γ</tspan>)
          </text>
        </g>
      ))}

      <text x={331} y={656} textAnchor="middle" fontFamily={SANS} fontSize={11} fill="#000">
        <tspan fontStyle="italic">K</tspan><tspan dy={2.5} fontSize={8}>i, e</tspan><tspan dy={-2.5}> [</tspan><tspan fontStyle="italic">m</tspan><tspan dy={2.5} fontSize={8} fontStyle="italic">i</tspan><tspan dy={-2.5} fontStyle="italic">c</tspan><tspan dy={-4} fontSize={8}>2</tspan><tspan dy={4}>]</tspan>
      </text>
    </svg>
  );
}

export default function App() {
  return (
    <div style={{ position: 'absolute', left: 0, top: 0, width: 599, height: 664, overflow: 'hidden', background: '#fff' }}>
      <Panel top={PANEL_TOPS[0]} ions={P1_IONS} electrons={P1_ELECTRONS} teFit={P1_TE_FIT} tiFit={P1_TI_FIT} seLine={P1_SE_LINE} siLine={P1_SI_LINE} vlines={P1_VLINES} showXLabels={false} />
      <Panel top={PANEL_TOPS[1]} ions={P23_IONS} electrons={P23_ELECTRONS} teFit={P23_TE_FIT} tiFit={P23_TI_FIT} seLine={P23_SE_LINE} siLine={P23_SI_LINE} vlines={P23_VLINES} showXLabels={false} />
      <Panel top={PANEL_TOPS[2]} ions={P23_IONS} electrons={P23_ELECTRONS} teFit={P23_TE_FIT} tiFit={P23_TI_FIT} seLine={P23_SE_LINE} siLine={P23_SI_LINE} vlines={P23_VLINES} showXLabels={true} />
      <Overlay />
    </div>
  );
}
